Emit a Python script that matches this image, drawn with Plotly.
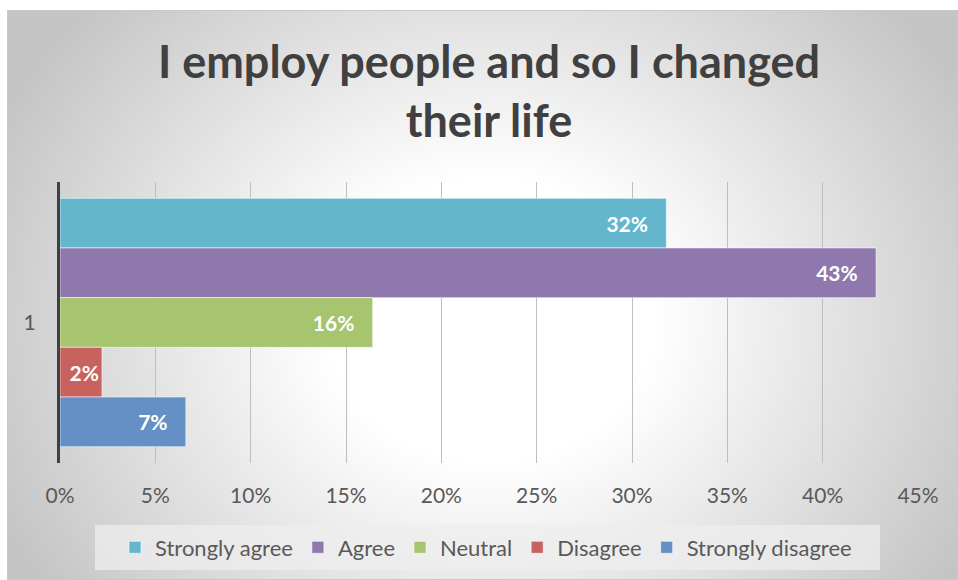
import base64
import plotly.graph_objects as go

# ---- data ----
categories = ["1"]
series_names = ["Strongly agree", "Agree", "Neutral", "Disagree", "Strongly disagree"]
series_values = [0.318, 0.428, 0.164, 0.022, 0.066]
series_colors = ["#64b6cc", "#8f78ad", "#a7c46f", "#c7625f", "#6590c5"]
tick_values = [0, 0.05, 0.10, 0.15, 0.20, 0.25, 0.30, 0.35, 0.40, 0.45]
tick_labels = ["0%", "5%", "10%", "15%", "20%", "25%", "30%", "35%", "40%", "45%"]
title_text = "I employ people and so I changed<br>their life"

FONT = "Lato"
TEXT_GREY = "#595959"

W, H = 958, 580
M_L, M_R, M_T, M_B = 60, 40, 182, 117
PLOT_W = W - M_L - M_R
PLOT_H = H - M_T - M_B

# radial grey-to-white chart background, drawn as an svg image behind everything
BG_X0, BG_Y0 = 7, 10
bg_w, bg_h = W - BG_X0, H - BG_Y0
svg = f"""<svg xmlns="http://www.w3.org/2000/svg" width="{bg_w}" height="{bg_h}" viewBox="0 0 {bg_w} {bg_h}" preserveAspectRatio="none">
<defs><radialGradient id="g" gradientUnits="userSpaceOnUse" cx="0" cy="0" r="1"
 gradientTransform="translate({490 - BG_X0},{320 - BG_Y0}) scale(545,470)">
<stop offset="0.3" stop-color="#ffffff"/><stop offset="1" stop-color="#c4c4c4"/></radialGradient></defs>
<rect x="0" y="0" width="{bg_w}" height="{bg_h}" fill="url(#g)"/>
<rect x="0.5" y="0.5" width="{bg_w - 1}" height="{bg_h - 1}" fill="none" stroke="#c8c8c8" stroke-width="1"/>
</svg>"""
bg_src = "data:image/svg+xml;base64," + base64.b64encode(svg.encode("utf-8")).decode("ascii")


def px_to_paper_x(px):
    return (px - M_L) / PLOT_W


def px_to_paper_y(py):
    return (H - M_B - py) / PLOT_H


fig = go.Figure()

for name, value, color in zip(series_names, series_values, series_colors):
    # keep the label clear of the bar end when the bar is wide enough
    pad = "\u00a0\u00a0\u00a0" if value >= 0.05 else ""
    fig.add_trace(go.Bar(
        y=categories,
        x=[value],
        name=name,
        orientation="h",
        marker=dict(color=color, line=dict(color="rgba(255,255,255,0.55)", width=1)),
        texttemplate="%{x:.0%}" + pad,
        textposition="inside",
        insidetextanchor="end",
        textangle=0,
        constraintext="none",
        insidetextfont=dict(family=FONT, size=21, color="white", weight="bold"),
        cliponaxis=False,
        hoverinfo="skip",
    ))

fig.update_layout(
    width=W,
    height=H,
    margin=dict(l=M_L, r=M_R, t=M_T, b=M_B),
    paper_bgcolor="white",
    plot_bgcolor="rgba(0,0,0,0)",
    barmode="group",
    bargap=0.116,
    bargroupgap=0,
    font=dict(family=FONT, color=TEXT_GREY),
    title=dict(
        text=title_text,
        font=dict(family=FONT, size=45, color="#404040", weight="bold"),
        x=0.5, xref="paper", xanchor="center",
        y=1 - 78 / H, yref="container", yanchor="top",
    ),
    xaxis=dict(
        range=[0, 0.45],
        tickvals=tick_values,
        ticktext=tick_labels,
        showgrid=True,
        gridcolor="#bebebe",
        gridwidth=1,
        zeroline=False,
        showline=False,
        ticks="",
        ticklabelstandoff=18,
        tickfont=dict(family=FONT, size=21, color=TEXT_GREY),
        fixedrange=True,
    ),
    yaxis=dict(
        type="category",
        autorange="reversed",
        showgrid=False,
        zeroline=False,
        showline=True,
        linecolor="#404040",
        linewidth=3,
        ticks="",
        ticklabelstandoff=17,
        tickfont=dict(family=FONT, size=21, color=TEXT_GREY),
        fixedrange=True,
    ),
    legend=dict(
        orientation="h",
        x=px_to_paper_x(486), xanchor="center",
        y=px_to_paper_y(547.5), yanchor="middle",
        bgcolor="rgba(0,0,0,0)",
        font=dict(family=FONT, size=22, color=TEXT_GREY),
        traceorder="normal",
    ),
    images=[dict(
        source=bg_src,
        xref="paper", yref="paper",
        x=px_to_paper_x(BG_X0), y=px_to_paper_y(BG_Y0),
        sizex=bg_w / PLOT_W, sizey=bg_h / PLOT_H,
        xanchor="left", yanchor="top",
        sizing="stretch",
        layer="below",
    )],
    shapes=[dict(
        type="rect", xref="paper", yref="paper",
        x0=px_to_paper_x(95), x1=px_to_paper_x(880),
        y0=px_to_paper_y(570), y1=px_to_paper_y(525),
        fillcolor="rgba(238,238,238,0.75)",
        line=dict(width=0),
        layer="below",
    )],
)

fig.write_html("out.html")
